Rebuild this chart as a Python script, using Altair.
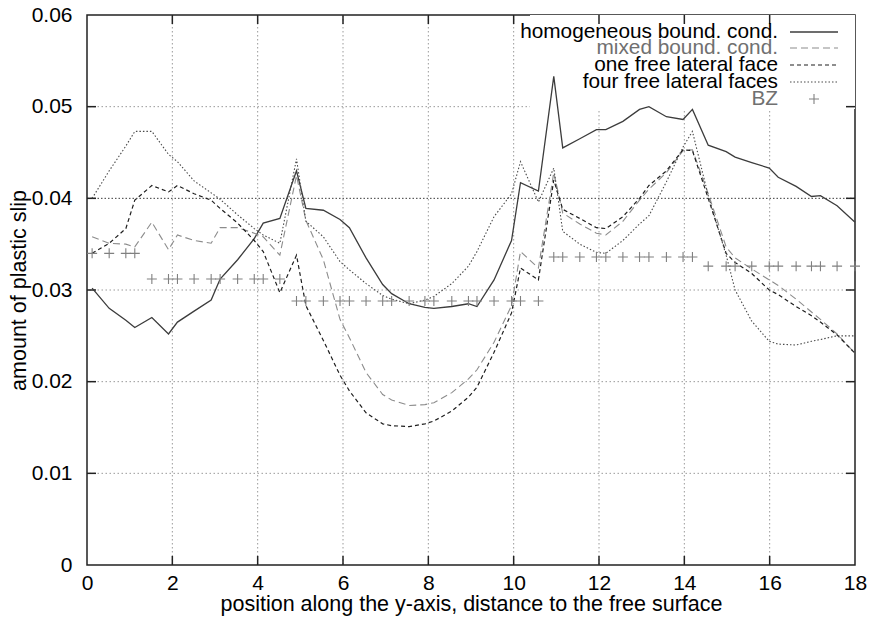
import altair as alt
import pandas as pd

# ---------------- data ----------------
positions = [0.12, 0.52, 0.91, 1.12, 1.52, 1.91, 2.12, 2.51, 2.91, 3.12, 3.53, 3.92, 4.13, 4.52,
             4.91, 5.13, 5.54, 5.93, 6.15, 6.54, 6.93, 7.14, 7.55, 7.92, 8.13, 8.55, 8.94, 9.14,
             9.54, 9.95, 10.16, 10.58,
             10.94, 11.15, 11.55, 11.94, 12.16, 12.56, 12.95, 13.17, 13.58, 13.97, 14.19,
             14.56, 14.98, 15.19, 15.58, 15.99, 16.20, 16.62, 16.98, 17.19, 17.58, 18.0]

homogeneous = [0.0302, 0.0280, 0.0267, 0.0259, 0.0270, 0.0252, 0.0265, 0.0277, 0.0289, 0.0312,
               0.0333, 0.0356, 0.0373, 0.0378,
               0.0430, 0.0389, 0.0387, 0.0377, 0.0368, 0.0335, 0.0306, 0.0296, 0.0285, 0.0281,
               0.0280, 0.0282, 0.0285, 0.0282, 0.0311, 0.0354, 0.0417, 0.0408,
               0.0533, 0.0455, 0.0465, 0.0475, 0.0475, 0.0484, 0.0497, 0.0500, 0.0489, 0.0486, 0.0497,
               0.0458, 0.0451, 0.0445, 0.0439, 0.0433, 0.0423, 0.0413, 0.0402, 0.0403, 0.0392, 0.0374]

mixed = [0.0358, 0.0351, 0.0350, 0.0347, 0.0374, 0.0344, 0.0360, 0.0354, 0.0351, 0.0368,
         0.0368, 0.0362, 0.0358, 0.0338,
         0.0425, 0.0376, 0.0333, 0.0268, 0.0248, 0.0210, 0.0186, 0.0180, 0.0174, 0.0175,
         0.0177, 0.0188, 0.0203, 0.0213, 0.0243, 0.0283, 0.0342, 0.0324,
         0.0428, 0.0384, 0.0372, 0.0362, 0.0360, 0.0375, 0.0398, 0.0410, 0.0428, 0.0452, 0.0453,
         0.0405, 0.0347, 0.0335, 0.0323, 0.0311, 0.0305, 0.0290, 0.0276, 0.0268, 0.0252, 0.0231]

one_free = [0.0340, 0.0351, 0.0367, 0.0398, 0.0414, 0.0407, 0.0414, 0.0405, 0.0398, 0.0389,
            0.0373, 0.0354, 0.0342, 0.0297,
            0.0338, 0.0283, 0.0245, 0.0207, 0.0190, 0.0166, 0.0154, 0.0152, 0.0151, 0.0154,
            0.0157, 0.0168, 0.0183, 0.0194, 0.0232, 0.0275, 0.0324, 0.0311,
            0.0420, 0.0388, 0.0378, 0.0368, 0.0367, 0.0380, 0.0400, 0.0414, 0.0430, 0.0453, 0.0452,
            0.0400, 0.0340, 0.0330, 0.0318, 0.0300, 0.0295, 0.0282, 0.0272, 0.0265, 0.0251, 0.0231]

four_free = [0.0400, 0.0430, 0.0457, 0.0473, 0.0473, 0.0448, 0.0440, 0.0419, 0.0406, 0.0399,
             0.0382, 0.0367, 0.0360, 0.0351,
             0.0443, 0.0375, 0.0358, 0.0331, 0.0322, 0.0307, 0.0294, 0.0290, 0.0285, 0.0289,
             0.0293, 0.0307, 0.0326, 0.0342, 0.0380, 0.0405, 0.0440, 0.0396,
             0.0433, 0.0364, 0.0350, 0.0341, 0.0340, 0.0354, 0.0372, 0.0381, 0.0418, 0.0456, 0.0473,
             0.0403, 0.0338, 0.0300, 0.0266, 0.0244, 0.0241, 0.0240, 0.0244, 0.0246, 0.0250, 0.0250]

bz = [0.0340, 0.0340, 0.0340, 0.0340,
      0.0312, 0.0312, 0.0312, 0.0312, 0.0312, 0.0312, 0.0312, 0.0312, 0.0312, 0.0312,
      0.0288, 0.0288, 0.0288, 0.0288, 0.0288, 0.0288, 0.0288, 0.0288, 0.0288, 0.0288,
      0.0288, 0.0288, 0.0288, 0.0288, 0.0288, 0.0288, 0.0288, 0.0288,
      0.0336, 0.0336, 0.0336, 0.0336, 0.0336, 0.0336, 0.0336, 0.0336, 0.0336, 0.0336, 0.0336,
      0.0326, 0.0326, 0.0326, 0.0326, 0.0326, 0.0326, 0.0326, 0.0326, 0.0326, 0.0326, 0.0326]

series_names = ["homogeneous bound. cond.", "mixed bound. cond.",
                "one free lateral face", "four free lateral faces", "BZ"]

x_tick_values = [0, 2, 4, 6, 8, 10, 12, 14, 16, 18]
y_tick_values = [0, 0.01, 0.02, 0.03, 0.04, 0.05, 0.06]
x_grid_values = [2, 4, 6, 8, 10, 12, 14, 16]
y_grid_values = [0.01, 0.02, 0.03, 0.05]
y_grid_dark = [0.04]

x_title = "position along the y-axis, distance to the free surface"
y_title = "amount of plastic slip"

# ---------------- build tables ----------------
all_series = [homogeneous, mixed, one_free, four_free, bz]
rows = []
for name, vals in zip(series_names, all_series):
    for xv, yv in zip(positions, vals):
        rows.append({"x": xv, "y": yv, "series": name})
df = pd.DataFrame(rows)

W, H = 768, 550
FONT = "Liberation Sans"

xscale = alt.Scale(domain=[0, 18], nice=False, zero=False)
yscale = alt.Scale(domain=[0, 0.06], nice=False, zero=False)

xaxis = alt.Axis(values=x_tick_values, title=x_title, grid=False, ticks=False, tickSize=0,
                 domain=False, labelPadding=7, titlePadding=0, labelFlush=False, format="d")
yaxis = alt.Axis(values=y_tick_values, title=y_title, grid=False, ticks=False, tickSize=0,
                 domain=False, labelPadding=15, titlePadding=1, labelFlush=False, format=".2~f")


def X(field):
    return alt.X(f"{field}:Q", scale=xscale, axis=xaxis)


def Y(field):
    return alt.Y(f"{field}:Q", scale=yscale, axis=yaxis)


gx = pd.DataFrame({"gx": x_grid_values})
gy = pd.DataFrame({"gy": y_grid_values})
gyd = pd.DataFrame({"gy": y_grid_dark})
tx = pd.DataFrame({"gx": x_grid_values})
ty = pd.DataFrame({"gy": y_grid_values + y_grid_dark})

layers = []

# grid
layers.append(alt.Chart(gx).mark_rule(color="#9a9a9a", strokeWidth=1, strokeDash=[1.5, 2.5])
              .encode(x=X("gx")))
layers.append(alt.Chart(gy).mark_rule(color="#9a9a9a", strokeWidth=1, strokeDash=[1.5, 2.5])
              .encode(y=Y("gy")))
layers.append(alt.Chart(gyd).mark_rule(color="#3a3a3a", strokeWidth=1, strokeDash=[1.5, 2])
              .encode(y=Y("gy")))

# legend background (hides the grid under the key)
one = pd.DataFrame({"a": [0]})
layers.append(alt.Chart(one).mark_rect(color="white")
              .encode(x=alt.value(443), x2=alt.value(W), y=alt.value(0), y2=alt.value(94)))

# inward ticks
tick_len = 9
layers.append(alt.Chart(tx).mark_rule(color="#222", strokeWidth=1.5)
              .encode(x=X("gx"), y=alt.value(H), y2=alt.value(H - tick_len)))
layers.append(alt.Chart(tx).mark_rule(color="#222", strokeWidth=1.5)
              .encode(x=X("gx"), y=alt.value(0), y2=alt.value(tick_len)))
layers.append(alt.Chart(ty).mark_rule(color="#222", strokeWidth=1.5)
              .encode(y=Y("gy"), x=alt.value(0), x2=alt.value(tick_len)))
layers.append(alt.Chart(ty).mark_rule(color="#222", strokeWidth=1.5)
              .encode(y=Y("gy"), x=alt.value(W), x2=alt.value(W - tick_len)))

# data series
styles = [
    dict(color="#3c3c3c", strokeWidth=1.3),
    dict(color="#8c8c8c", strokeWidth=1.1, strokeDash=[7, 4]),
    dict(color="#1e1e1e", strokeWidth=1.2, strokeDash=[4, 3]),
    dict(color="#4a4a4a", strokeWidth=1.1, strokeDash=[1.5, 2]),
]
for name, st in zip(series_names[:4], styles):
    layers.append(alt.Chart(df).transform_filter(alt.datum.series == name)
                  .mark_line(**st).encode(x=X("x"), y=Y("y"), order="x:Q"))

plus_path = "M-1,0L1,0M0,-1L0,1"
layers.append(alt.Chart(df).transform_filter(alt.datum.series == series_names[4])
              .mark_point(shape=plus_path, filled=False, color="#808080", strokeWidth=1.1, size=100,
                          opacity=1)
              .encode(x=X("x"), y=Y("y")))

# manual key
row_y = [17, 33, 50, 67, 84]
text_colors = ["#000000", "#707070", "#000000", "#000000", "#707070"]
text_right = 691
samp_x0, samp_x1 = 703, 751
for i, name in enumerate(series_names):
    layers.append(alt.Chart(one).mark_text(align="right", baseline="middle", font=FONT,
                                           fontSize=20.8, color=text_colors[i])
                  .encode(x=alt.value(text_right), y=alt.value(row_y[i]), text=alt.value(name)))
    if i < 4:
        layers.append(alt.Chart(one).mark_rule(**styles[i])
                      .encode(x=alt.value(samp_x0), x2=alt.value(samp_x1), y=alt.value(row_y[i])))
    else:
        layers.append(alt.Chart(one).mark_point(shape=plus_path, filled=False, color="#808080",
                                                strokeWidth=1.1, size=100, opacity=1)
                      .encode(x=alt.value((samp_x0 + samp_x1) / 2), y=alt.value(row_y[i])))

chart = alt.layer(*layers).properties(
    width=W, height=H,
    autosize=alt.AutoSizeParams(type="none"),
    padding={"left": 87, "top": 15, "right": 19, "bottom": 56},
    background="white",
).configure_view(
    stroke="#222222", strokeWidth=1.5
).configure_axis(
    labelFont=FONT, labelFontSize=21, labelColor="#000000",
    titleFont=FONT, titleFontSize=21.5, titleColor="#000000", titleFontWeight="normal",
)

chart.save("out.html", embed_options={"renderer": "svg", "actions": False})
